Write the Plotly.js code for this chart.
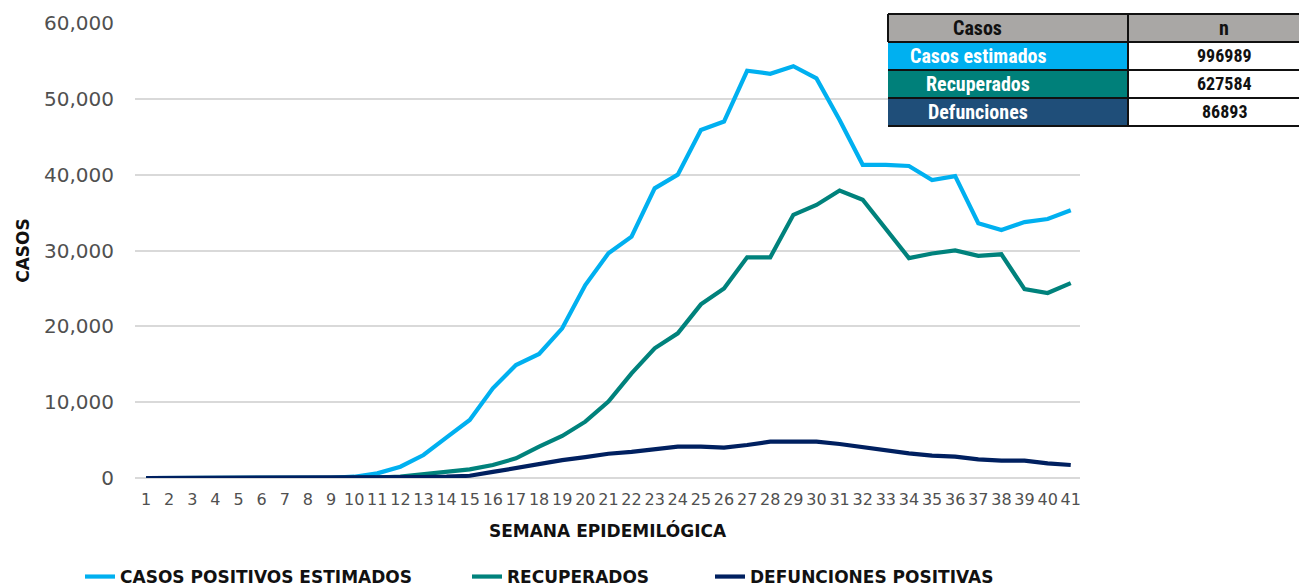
<!DOCTYPE html>
<html>
<head>
<meta charset="utf-8">
<script src="https://cdn.plot.ly/plotly-3.0.1.min.js"></script>
<style>html,body{margin:0;padding:0;background:#fff;}#chart{width:1299px;height:587px;}</style>
</head>
<body>
<div id="chart"></div>
<script>
const weeks = [1,2,3,4,5,6,7,8,9,10,11,12,13,14,15,16,17,18,19,20,21,22,23,24,25,26,27,28,29,30,31,32,33,34,35,36,37,38,39,40,41];
const casosEstimados = [0,0,0,0,0,0,0,0,20,170,610,1490,3030,5360,7650,11830,14900,16350,19740,25450,29630,31830,38200,40000,45900,47000,53700,53300,54300,52700,47200,41300,41300,41150,39300,39800,33600,32700,33750,34150,35300];
const recuperados = [0,0,0,0,0,0,0,0,0,20,60,200,530,840,1140,1710,2590,4130,5540,7430,10070,13800,17100,19080,22900,25000,29100,29100,34700,36000,37900,36700,32800,29000,29600,30000,29300,29500,24900,24400,25700];
const defunciones = [0,0,0,0,0,0,0,0,0,10,30,80,130,170,300,800,1300,1900,2350,2750,3200,3450,3800,4130,4130,4000,4350,4790,4790,4790,4480,4040,3560,3250,2940,2810,2460,2290,2290,1930,1710];
const seriesNames = ['CASOS POSITIVOS ESTIMADOS','RECUPERADOS','DEFUNCIONES POSITIVAS'];
const tableHeader = ['Casos','n'];
const tableLabels = ['Casos estimados','Recuperados','Defunciones'];
const tableValues = [996989, 627584, 86893];

const colors = ['#00B0F0','#00827C','#002060'];
const rowColors = ['#00B0F0','#00807A','#1F4E79'];

// plot area in pixels
const L = 135, R = 1080, T = 23, B = 478;
const px = x => (x - L) / (R - L);
const py = y => (B - y) / (B - T);

const wide = '"DejaVu Sans", Verdana, sans-serif';
const narrow = '"Liberation Sans Narrow", "Roboto Condensed", Arial, sans-serif';
const legFont = {family:wide, size:17, color:'#111', weight:'bold'};

const traces = [casosEstimados, recuperados, defunciones].map((v,i)=>({
  x: weeks, y: v, type:'scatter', mode:'lines', name: seriesNames[i],
  line:{color:colors[i], width:4.2},
  legend: i===0 ? 'legend' : ('legend'+(i+1))
}));

const shapes = [];
const annotations = [];
const tL = 888, tM = 1128, tR = 1299, rowH = 28, tTop = 14;
function txt(x, y, text, color, size){
  annotations.push({xref:'paper', yref:'paper', x:px(x), y:py(y), xanchor:'center', yanchor:'middle',
    text:'<b>'+text+'</b>', showarrow:false, font:{family:narrow, size:size, color:color}});
}
shapes.push({type:'rect', xref:'paper', yref:'paper', x0:px(tL), x1:px(tR), y0:py(tTop+rowH), y1:py(tTop), fillcolor:'#A9A7A5', line:{width:0}, layer:'above'});
txt(977, tTop+rowH/2, tableHeader[0], '#111', 20);
txt(1224, tTop+rowH/2, tableHeader[1], '#111', 20);
tableLabels.forEach((lab,i)=>{
  const y0 = tTop + rowH*(i+1), y1 = y0 + rowH;
  shapes.push({type:'rect', xref:'paper', yref:'paper', x0:px(tL), x1:px(tM), y0:py(y1), y1:py(y0), fillcolor:rowColors[i], line:{width:0}, layer:'above'});
  shapes.push({type:'rect', xref:'paper', yref:'paper', x0:px(tM), x1:px(tR), y0:py(y1), y1:py(y0), fillcolor:'#FFFFFF', line:{width:0}, layer:'above'});
  txt(978, y0+rowH/2, lab, '#FFFFFF', 20);
  txt(1224, y0+rowH/2, String(tableValues[i]), '#111', 18);
});
for (let i=0;i<=4;i++){
  const y = tTop + rowH*i;
  shapes.push({type:'line', xref:'paper', yref:'paper', x0:px(tL), x1:px(tR), y0:py(y), y1:py(y), line:{color:'#111', width:2}, layer:'above'});
}
shapes.push({type:'line', xref:'paper', yref:'paper', x0:px(tM), x1:px(tM), y0:py(tTop), y1:py(tTop+rowH*4), line:{color:'#111', width:2}, layer:'above'});
shapes.push({type:'line', xref:'paper', yref:'paper', x0:px(tL), x1:px(tL), y0:py(tTop), y1:py(tTop+rowH), line:{color:'#111', width:2}, layer:'above'});

const legBase = {orientation:'h', xanchor:'left', yanchor:'middle', y:py(577), font:legFont, bgcolor:'rgba(0,0,0,0)', itemwidth:30, tracegroupgap:0};

const layout = {
  width:1299, height:587,
  margin:{l:L, r:1299-R, t:T, b:587-B, pad:0, autoexpand:false},
  paper_bgcolor:'#fff', plot_bgcolor:'#fff',
  showlegend:true,
  xaxis:{
    range:[0.52,41.4], tickmode:'linear', tick0:1, dtick:1, tickangle:0,
    showgrid:false, zeroline:false, showline:false, ticks:'', automargin:true, ticklabelstandoff:10,
    tickfont:{family:wide, size:16, color:'#505050'},
    title:{text:'<b>SEMANA EPIDEMILÓGICA</b>', font:{family:wide, size:17, color:'#111'}, standoff:17}
  },
  yaxis:{
    range:[0,60000], tickmode:'linear', tick0:0, dtick:10000, tickformat:',d',
    showgrid:true, gridcolor:'#D9D9D9', gridwidth:1.5, zeroline:true, zerolinecolor:'#D9D9D9', zerolinewidth:1.5,
    showline:false, ticks:'', ticklabelstandoff:20, automargin:true,
    tickfont:{family:wide, size:20, color:'#505050'},
    title:{text:'<b>CASOS</b>', font:{family:wide, size:17, color:'#111'}, standoff:10}
  },
  legend: Object.assign({}, legBase, {x:px(80)}),
  legend2: Object.assign({}, legBase, {x:px(467)}),
  legend3: Object.assign({}, legBase, {x:px(710)}),
  shapes: shapes,
  annotations: annotations
};

Plotly.newPlot('chart', traces, layout, {displayModeBar:false, responsive:false});
</script>
</body>
</html>
